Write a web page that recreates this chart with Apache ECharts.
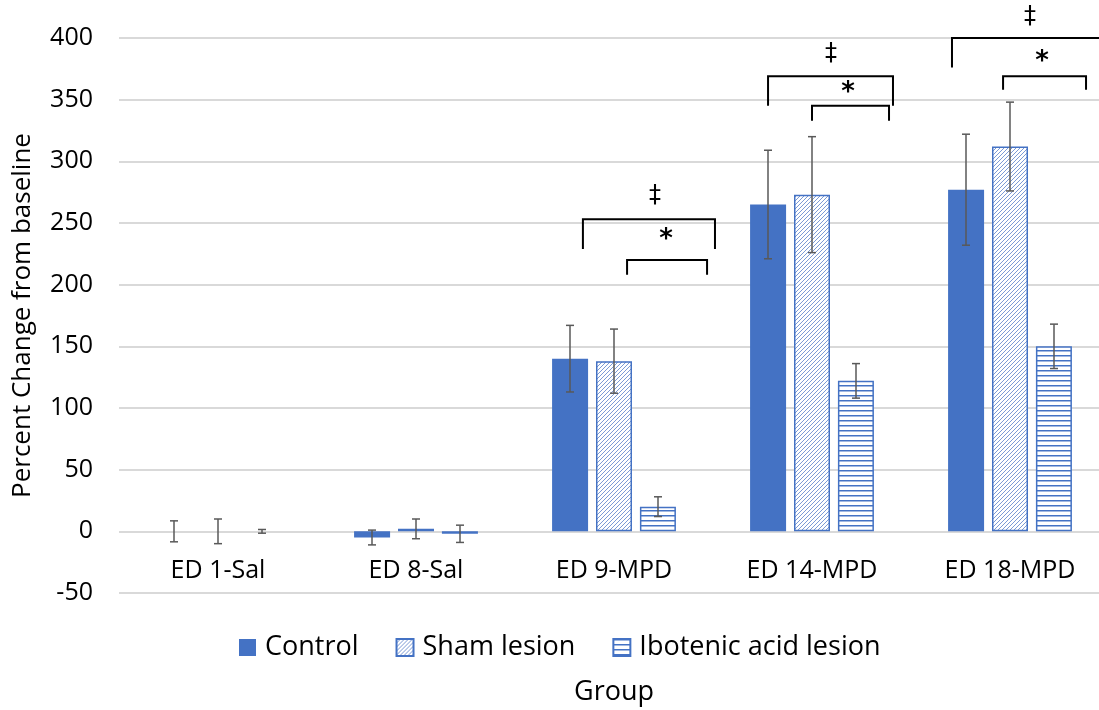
<!DOCTYPE html>
<html>
<head>
<meta charset="utf-8">
<script src="https://cdn.jsdelivr.net/npm/echarts@6/dist/echarts.min.js"></script>
<style>
html,body{margin:0;padding:0;background:#fff;}
#chart{width:1099px;height:710px;}
</style>
</head>
<body>
<div id="chart"></div>
<script>
var categories = ['ED 1-Sal', 'ED 8-Sal', 'ED 9-MPD', 'ED 14-MPD', 'ED 18-MPD'];
var seriesNames = ['Control', 'Sham lesion', 'Ibotenic acid lesion'];
var control = [0, -5, 140, 265, 277];
var controlErr = [8.5, 6, 27, 44, 45];
var sham = [0, 2, 138, 273, 312];
var shamErr = [10, 8, 26, 47, 36];
var ibo = [0, -2, 20, 122, 150];
var iboErr = [1.5, 7, 8, 14, 18];
var yTicks = {min: -50, max: 400, step: 50};

// significance brackets: [x left, x right, top, left leg end, right leg end] (x in category units)
var brackets = [
	[2.343, 3.010, 253, 229, 229],
	[2.566, 2.970, 220, 208, 208],
	[3.278, 3.909, 369, 345, 345],
	[3.500, 3.889, 345, 333, 333],
	[4.207, 4.980, 400, 376, 376],
	[4.465, 4.884, 369, 358, 358]
];
// marks: [x, y, text]
var marks = [
	[2.707, 272, '\u2021'],
	[2.763, 236, '*'],
	[3.596, 387, '\u2021'],
	[3.682, 355, '*'],
	[4.601, 417, '\u2021'],
	[4.662, 380, '*']
];

var blue = '#4472C4';
var font = 'Open Sans';

function makePattern(kind){
	var c = document.createElement('canvas');
	var ctx = c.getContext('2d');
	c.width = 4; c.height = 4;
	ctx.fillStyle = '#fff';
	ctx.fillRect(0, 0, 4, 4);
	if(kind == 'diag'){
		ctx.strokeStyle = '#6d8fd0';
		ctx.lineWidth = 0.9;
		ctx.beginPath();
		ctx.moveTo(-1, 5); ctx.lineTo(5, -1);
		ctx.moveTo(-1, 1); ctx.lineTo(1, -1);
		ctx.moveTo(3, 5); ctx.lineTo(5, 3);
		ctx.stroke();
	} else {
		c.height = 5;
		ctx.fillStyle = '#fff';
		ctx.fillRect(0, 0, 4, 5);
		ctx.fillStyle = blue;
		ctx.fillRect(0, 0, 4, 1.5);
	}
	return {image: c, repeat: 'repeat'};
}

// zero-height bars get no outline (as in the original)
function barData(vals){
	return vals.map(function(v){
		return v === 0 ? {value: 0, itemStyle: {borderWidth: 0}} : v;
	});
}

var offset = 44 / 198;
function errData(vals, errs, k){
	var out = [];
	for(var i = 0; i < vals.length; i++){
		out.push([i + 0.5 + (k - 1) * offset, vals[i] - errs[i], vals[i] + errs[i]]);
	}
	return out;
}

function renderErr(params, api){
	var x = api.value(0);
	var lo = api.coord([x, api.value(1)]);
	var hi = api.coord([x, api.value(2)]);
	var cap = 4;
	var st = {stroke: '#595959', lineWidth: 1.5};
	return {
		type: 'group',
		children: [
			{type: 'line', shape: {x1: hi[0], y1: hi[1], x2: lo[0], y2: lo[1]}, style: st},
			{type: 'line', shape: {x1: hi[0] - cap, y1: hi[1], x2: hi[0] + cap, y2: hi[1]}, style: st},
			{type: 'line', shape: {x1: lo[0] - cap, y1: lo[1], x2: lo[0] + cap, y2: lo[1]}, style: st}
		]
	};
}

function renderBracket(params, api){
	var a = api.coord([api.value(0), api.value(3)]);
	var b = api.coord([api.value(0), api.value(2)]);
	var c = api.coord([api.value(1), api.value(2)]);
	var d = api.coord([api.value(1), api.value(4)]);
	return {
		type: 'polyline',
		shape: {points: [a, b, c, d]},
		style: {stroke: '#000', lineWidth: 2, fill: null}
	};
}

function renderMark(params, api){
	var p = api.coord([api.value(0), api.value(1)]);
	var t = marks[params.dataIndex][2];
	return {
		type: 'text',
		x: p[0], y: p[1],
		style: {
			text: t,
			fontSize: t == '*' ? 26 : 24,
			fontWeight: t == '*' ? 'bold' : 'normal',
			fontFamily: 'DejaVu Sans',
			fill: '#000',
			align: 'center',
			verticalAlign: 'middle'
		}
	};
}

var myChart = echarts.init(document.getElementById('chart'));
var option = {
	animation: false,
	textStyle: {fontFamily: font},
	grid: {left: 119, right: -10, top: 38, bottom: 117, containLabel: false, outerBoundsMode: 'none'},
	legend: {
		data: seriesNames,
		icon: 'rect',
		bottom: 44,
		left: 234,
		itemWidth: 17,
		itemHeight: 17,
		itemGap: 37,
		textStyle: {fontSize: 27, color: '#000', fontFamily: font, padding: [0, 0, 0, 4]}
	},
	xAxis: [
		{
			type: 'category',
			data: categories,
			offset: -62,
			name: 'Group',
			nameLocation: 'middle',
			nameGap: 148,
			nameTextStyle: {fontSize: 27, color: '#000', fontFamily: font},
			axisLine: {show: false, onZero: false},
			axisTick: {show: false},
			axisLabel: {fontSize: 25, color: '#000', margin: 27, fontFamily: font}
		},
		{
			type: 'value',
			min: 0,
			max: 5,
			show: false
		}
	],
	yAxis: {
		type: 'value',
		min: yTicks.min,
		max: yTicks.max,
		interval: yTicks.step,
		name: 'Percent Change from baseline',
		nameLocation: 'middle',
		nameGap: 83,
		nameTextStyle: {fontSize: 26, color: '#000', fontFamily: font},
		axisLine: {show: false, onZero: false},
		axisTick: {show: false},
		axisLabel: {fontSize: 25, color: '#000', margin: 26, fontFamily: font},
		splitLine: {lineStyle: {color: '#d9d9d9', width: 2}}
	},
	series: [
		{
			name: seriesNames[0], type: 'bar', data: barData(control),
			barWidth: 36, barGap: '22%',
			itemStyle: {color: blue}
		},
		{
			name: seriesNames[1], type: 'bar', data: barData(sham),
			barWidth: 36, barGap: '22%',
			itemStyle: {color: makePattern('diag'), borderColor: blue, borderWidth: 1.5}
		},
		{
			name: seriesNames[2], type: 'bar', data: barData(ibo),
			barWidth: 36, barGap: '22%',
			itemStyle: {color: makePattern('horiz'), borderColor: blue, borderWidth: 1.5}
		},
		{type: 'custom', xAxisIndex: 1, data: errData(control, controlErr, 0), renderItem: renderErr, z: 5},
		{type: 'custom', xAxisIndex: 1, data: errData(sham, shamErr, 1), renderItem: renderErr, z: 5},
		{type: 'custom', xAxisIndex: 1, data: errData(ibo, iboErr, 2), renderItem: renderErr, z: 5},
		{type: 'custom', xAxisIndex: 1, data: brackets, renderItem: renderBracket, clip: false, z: 6},
		{type: 'custom', xAxisIndex: 1, data: marks.map(function(m){ return [m[0], m[1]]; }), renderItem: renderMark, clip: false, z: 6}
	]
};
myChart.setOption(option);
</script>
</body>
</html>
